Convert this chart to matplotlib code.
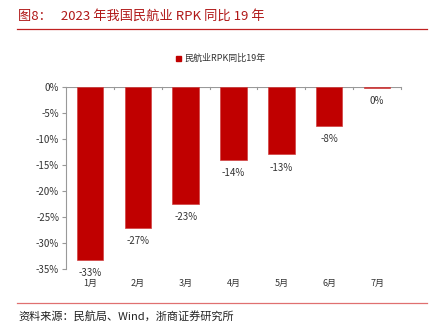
import matplotlib
matplotlib.use("Agg")
import matplotlib.pyplot as plt
from matplotlib.lines import Line2D

plt.rcParams['font.family'] = ['Noto Sans CJK SC', 'DejaVu Sans']

months = ["1月", "2月", "3月", "4月", "5月", "6月", "7月"]
rpk_vs_2019 = [-33.3, -27.1, -22.5, -14.1, -13.0, -7.5, -0.2]
value_labels = ["-33%", "-27%", "-23%", "-14%", "-13%", "-8%", "0%"]
yticks = [0, -5, -10, -15, -20, -25, -30, -35]

W, H = 435, 327
fig = plt.figure(figsize=(W / 100, H / 100), dpi=100)

red = "#C00000"
ax = fig.add_axes([66 / W, 1 - 269 / H, (401 - 66) / W, (269 - 86.7) / H])
x = list(range(len(months)))
ax.bar(x, rpk_vs_2019, width=0.55, color=red, edgecolor="#D04040", linewidth=0.5)
ax.set_xlim(-0.5, len(months) - 0.5)
ax.set_ylim(-35, 0)
ax.set_yticks(yticks)
ax.set_yticklabels([f"{v}%" for v in yticks], fontsize=7, color="#333333")
ax.set_xticks([])
for s in ["top", "right", "bottom"]:
    ax.spines[s].set_visible(False)
ax.spines["left"].set_color("#999999")
ax.spines["left"].set_linewidth(0.8)
ax.tick_params(axis="y", length=3, color="#999999", pad=2)

# zero line with category boundary ticks
ax.axhline(0, color="#999999", linewidth=0.8, zorder=0)
for b in range(1, len(months) + 1):
    ax.plot([b - 0.5, b - 0.5], [0, -0.5], color="#999999", linewidth=0.8, clip_on=False)

for xi, v, lab in zip(x, rpk_vs_2019, value_labels):
    ax.annotate(lab, (xi, v), xytext=(0, -9.5), textcoords="offset points",
                ha="center", va="center", fontsize=7, color="#333333")
    ax.annotate(months[xi], (xi, -35), xytext=(0, -10.5), textcoords="offset points",
                ha="center", va="center", fontsize=6.5, color="#333333")

# legend
fig.patches.append(plt.Rectangle((176 / W, 1 - 61 / H), 5 / W, 5 / H,
                                 color=red, transform=fig.transFigure))
fig.text(184 / W, 1 - 58 / H, "民航业RPK同比19年", fontsize=6.5, color="#333333",
         va="center", ha="left")

# title and frame lines
fig.text(18 / W, 1 - 16 / H, "图8：   2023 年我国民航业 RPK 同比 19 年", fontsize=9.5,
         color="#B01818", va="center", ha="left")
fig.add_artist(Line2D([17 / W, 427 / W], [1 - 29 / H, 1 - 29 / H], color="#C02020",
                      linewidth=0.9, transform=fig.transFigure))
fig.add_artist(Line2D([17 / W, 427 / W], [1 - 303 / H, 1 - 303 / H], color="#E07070",
                      linewidth=0.9, transform=fig.transFigure))
fig.text(18 / W, 1 - 316 / H, "资料来源：民航局、Wind，浙商证券研究所", fontsize=8,
         color="#222222", va="center", ha="left")

fig.savefig("out.png", dpi=100)
